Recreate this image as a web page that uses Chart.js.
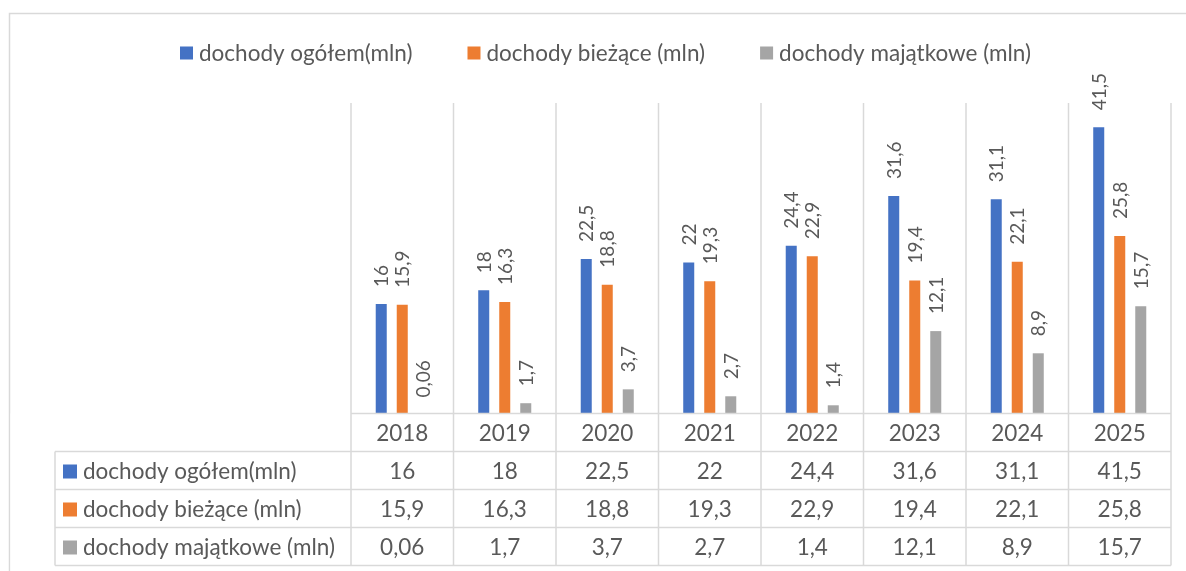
<!DOCTYPE html>
<html>
<head>
<meta charset="utf-8">
<script src="https://cdn.jsdelivr.net/npm/chart.js@4.4.1/dist/chart.umd.min.js"></script>
<style>
  html, body { margin: 0; padding: 0; background: #fff; }
  #wrap { width: 1186px; height: 571px; }
</style>
</head>
<body>
<div id="wrap"><canvas id="c" width="1186" height="571"></canvas></div>
<script>
// dane z wykresu
const years      = ["2018", "2019", "2020", "2021", "2022", "2023", "2024", "2025"];
const ogolem     = [16, 18, 22.5, 22, 24.4, 31.6, 31.1, 41.5];
const biezace    = [15.9, 16.3, 18.8, 19.3, 22.9, 19.4, 22.1, 25.8];
const majatkowe  = [0.06, 1.7, 3.7, 2.7, 1.4, 12.1, 8.9, 15.7];
const seriesNames  = ["dochody ogółem(mln)", "dochody bieżące (mln)", "dochody majątkowe (mln)"];
const seriesColors = ["#4472C4", "#ED7D31", "#A5A5A5"];
const yMax = 45;

const GRID = "#d9d9d9";
const TEXT = "#595959";
const FONT = "Lato, 'Liberation Sans', sans-serif";

const fmt = v => String(v).replace(".", ",");

// tabela danych pod wykresem (jak w Excelu)
const TABLE_LEFT = 55;
const ROW_TOP = 413.5;
const ROW_H = 38;

const excelPlugin = {
  id: "excelTable",
  beforeDatasetsDraw(chart) {
    const { ctx } = chart;
    ctx.save();
    // ramka obszaru wykresu
    ctx.strokeStyle = GRID;
    ctx.lineWidth = 1.5;
    ctx.strokeRect(9.5, 13.5, 1400, 800);

    // legenda na górze
    ctx.font = "22.5px " + FONT;
    ctx.textBaseline = "middle";
    const box = 13, gap = 6, spacing = 55;
    const widths = seriesNames.map(n => box + gap + ctx.measureText(n).width);
    const total = widths.reduce((s, w) => s + w, 0) + spacing * (widths.length - 1);
    let lx = Math.round(606 - total / 2);
    const ly = 53;
    seriesNames.forEach((n, i) => {
      ctx.fillStyle = seriesColors[i];
      ctx.fillRect(lx, ly - box / 2, box, box);
      ctx.fillStyle = TEXT;
      ctx.textAlign = "left";
      ctx.fillText(n, lx + box + gap, ly + 1);
      lx += widths[i] + spacing;
    });
    ctx.restore();
  },
  afterDatasetsDraw(chart) {
    const { ctx, chartArea: a, scales: { x } } = chart;
    const w = x.width / years.length;
    ctx.save();

    // etykiety danych, obrócone
    ctx.font = "19px " + FONT;
    ctx.fillStyle = TEXT;
    ctx.textAlign = "left";
    ctx.textBaseline = "middle";
    chart.data.datasets.forEach((ds, di) => {
      chart.getDatasetMeta(di).data.forEach((el, i) => {
        ctx.save();
        ctx.translate(el.x + 1, el.y - 17);
        ctx.rotate(-Math.PI / 2);
        ctx.fillText(fmt(ds.data[i]), 0, 0);
        ctx.restore();
      });
    });

    // tło tabeli zasłania dół słupków
    ctx.fillStyle = "#fff";
    ctx.fillRect(10.5, ROW_TOP, 1186, 571 - ROW_TOP);

    // linie siatki
    ctx.strokeStyle = GRID;
    ctx.lineWidth = 1.5;
    const bottom = ROW_TOP + ROW_H * 4;
    ctx.beginPath();
    for (let i = 0; i <= years.length; i++) {
      const gx = a.left + i * w;
      ctx.moveTo(gx, a.top);
      ctx.lineTo(gx, bottom);
    }
    ctx.moveTo(a.left, ROW_TOP);
    ctx.lineTo(a.right, ROW_TOP);
    for (let r = 1; r <= 4; r++) {
      ctx.moveTo(TABLE_LEFT, ROW_TOP + r * ROW_H);
      ctx.lineTo(a.right, ROW_TOP + r * ROW_H);
    }
    ctx.moveTo(TABLE_LEFT, ROW_TOP + ROW_H);
    ctx.lineTo(TABLE_LEFT, bottom);
    ctx.stroke();

    // nagłówek z latami
    ctx.font = "22.5px " + FONT;
    ctx.fillStyle = TEXT;
    ctx.textAlign = "center";
    ctx.textBaseline = "middle";
    years.forEach((yr, i) => {
      ctx.fillText(yr, x.getPixelForValue(i), ROW_TOP + ROW_H / 2 + 1);
    });

    // wiersze serii
    chart.data.datasets.forEach((ds, di) => {
      const cy = ROW_TOP + ROW_H * (di + 1) + ROW_H / 2 + 1;
      ctx.fillStyle = seriesColors[di];
      ctx.fillRect(63, cy - 7, 14, 14);
      ctx.fillStyle = TEXT;
      ctx.textAlign = "left";
      ctx.fillText(seriesNames[di], 83, cy);
      ctx.textAlign = "center";
      ds.data.forEach((v, i) => ctx.fillText(fmt(v), x.getPixelForValue(i), cy));
    });
    ctx.restore();
  }
};

new Chart(document.getElementById("c").getContext("2d"), {
  type: "bar",
  data: {
    labels: years,
    datasets: [
      { label: seriesNames[0], data: ogolem,    backgroundColor: seriesColors[0] },
      { label: seriesNames[1], data: biezace,   backgroundColor: seriesColors[1] },
      { label: seriesNames[2], data: majatkowe, backgroundColor: seriesColors[2] },
    ],
  },
  options: {
    responsive: false,
    animation: false,
    devicePixelRatio: 1,
    layout: { padding: { left: 351, right: 15, top: 103, bottom: 156 } },
    datasets: { bar: { categoryPercentage: 0.615, barPercentage: 0.524 } },
    plugins: { legend: { display: false }, tooltip: { enabled: false } },
    scales: {
      x: { display: false, offset: true },
      y: { display: false, min: 0, max: yMax },
    },
  },
  plugins: [excelPlugin],
});
</script>
</body>
</html>
